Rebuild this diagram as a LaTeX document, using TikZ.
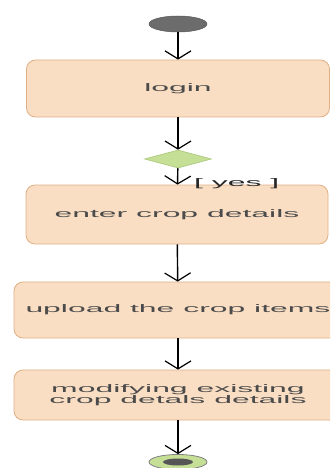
\documentclass[tikz,border=0pt]{standalone}
\usepackage{fontspec}
\setmainfont{Liberation Sans}
\usepackage{graphicx}
\usetikzlibrary{shapes.geometric,arrows.meta}
\definecolor{boxfill}{RGB}{250,222,195}
\definecolor{boxline}{RGB}{224,176,132}
\definecolor{dfill}{RGB}{197,224,150}
\definecolor{dline}{RGB}{168,198,120}
\definecolor{txt}{RGB}{75,75,75}
\definecolor{startfill}{RGB}{108,108,108}
\newcommand\stx[1]{\scalebox{2.9}[1]{#1}}
\begin{document}
\begin{tikzpicture}[x=1pt,y=-1pt,
  actbox/.style={draw=boxline, fill=boxfill, line width=0.8pt, rounded corners=9pt,
    inner sep=0pt, text=txt, font=\fontsize{11}{9}\selectfont},
  flow/.style={draw=black, line width=1.4pt, -{Straight Barb[length=8pt,width=26pt,line width=1.2pt]}},
  startnode/.style={ellipse, draw=startfill!80!black, fill=startfill, line width=0.5pt, inner sep=0pt, minimum width=58pt, minimum height=16pt},
  decision/.style={diamond, draw=dline, fill=dfill, line width=0.6pt, inner sep=0pt, minimum width=67pt, minimum height=18pt},
  endouter/.style={ellipse, draw=gray, fill=dfill, line width=0.8pt, inner sep=0pt, minimum width=58pt, minimum height=15pt},
  endinner/.style={ellipse, fill=startfill!80!black, inner sep=0pt, minimum width=30pt, minimum height=7pt},
  guard/.style={inner sep=0pt, text=black!85, font=\fontsize{11}{11}\selectfont}]
\useasboundingbox (0,0) rectangle (330,468);
\clip (0,0) rectangle (330,468);
\node[startnode] (start) at (178,24) {};
\node[actbox, minimum width=303pt, minimum height=57pt] (login) at (178,88.5) {\stx{login}};
\node[decision] (dec) at (178,159) {};
\node[actbox, minimum width=302pt, minimum height=59pt] (enter) at (177,214.5) {\stx{enter crop details}};
\node[actbox, minimum width=328pt, minimum height=56pt] (upload) at (178,310) {\stx{upload the crop items}};
\node[actbox, minimum width=328pt, minimum height=50pt, align=center] (modify) at (178,395) {\stx{modifying existing}\\\stx{crop detals details}};
\node[endouter] (end) at (178,462) {};
\node[endinner] (endin) at (end.center) {};
\node[guard, anchor=west] (yes) at (194,184) {\stx{[ yes ]}};
\draw[flow] (start) -- (login);
\draw[flow] (login) -- (dec);
\draw[flow] (dec) -- (enter);
\draw[flow] (enter) -- (upload);
\draw[flow] (upload) -- (modify);
\draw[flow] (modify) -- (end);
\end{tikzpicture}
\end{document}
